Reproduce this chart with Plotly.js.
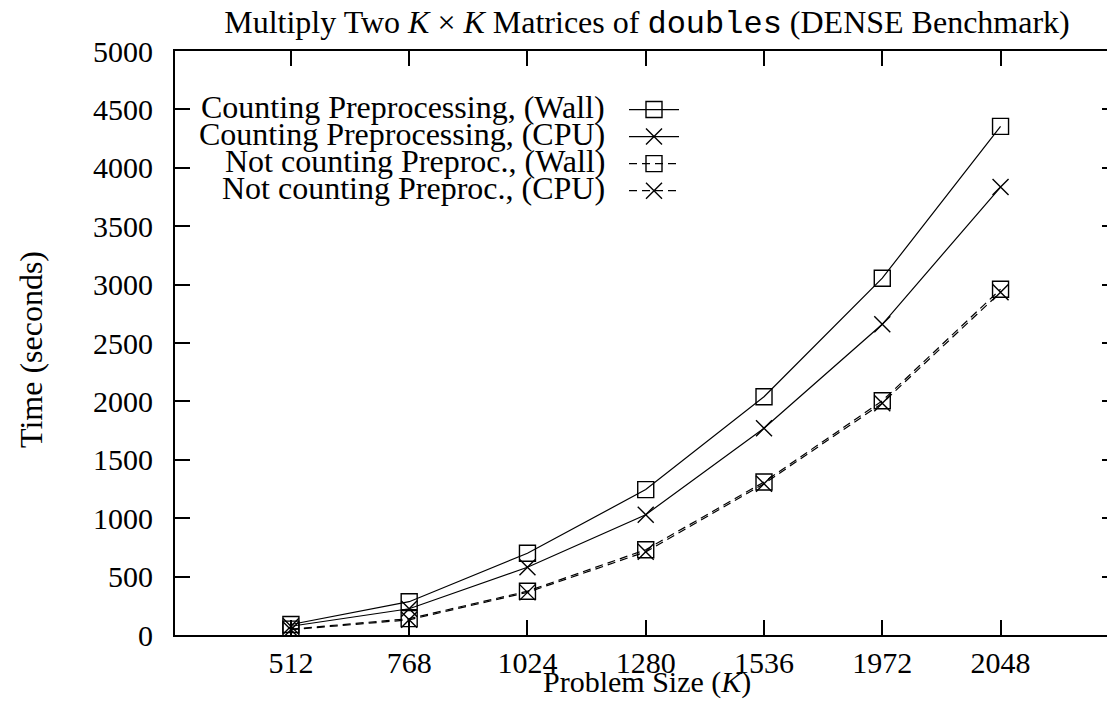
<!DOCTYPE html>
<html>
<head>
<meta charset="utf-8">
<script src="https://cdn.plot.ly/plotly-3.0.1.min.js"></script>
<style>html,body{margin:0;padding:0;background:#fff}#chart{width:1107px;height:702px}</style>
</head>
<body>
<div id="chart"></div>
<script>
// ---- data ----
const problemSizes = ['512', '768', '1024', '1280', '1536', '1972', '2048'];
const countingWall = [90, 285, 700, 1245, 2040, 3055, 4355];
const countingCPU = [75, 225, 580, 1030, 1770, 2660, 3835];
const notCountingWall = [50, 140, 375, 730, 1310, 2005, 2960];
const notCountingCPU = [45, 130, 365, 712, 1295, 1985, 2935];
const seriesNames = [
  'Counting Preprocessing, (Wall)',
  'Counting Preprocessing, (CPU)',
  'Not counting Preproc., (Wall)',
  'Not counting Preproc., (CPU)'
];
const yTicks = [0, 500, 1000, 1500, 2000, 2500, 3000, 3500, 4000, 4500, 5000];

const FONT = 'Liberation Serif, Times New Roman, serif';
const FS_TICK = 30;
const FS_TEXT = 32;

const L = 175, T = 51, B = 635, R = 1107;
const W = R - L, H = B - T;
const px = v => (v - L) / W;
const py = v => (B - v) / H;

function mk(y, name, sym, dash) {
  return {
    x: problemSizes, y: y, name: name, type: 'scatter', mode: 'lines+markers',
    line: {color: '#000', width: 1.2, dash: dash},
    marker: {symbol: sym, size: 16, color: '#000', line: {color: '#000', width: 1.4}},
    showlegend: true
  };
}
const traces = [
  mk(countingWall, seriesNames[0], 'square-open', 'solid'),
  mk(countingCPU, seriesNames[1], 'x-thin-open', 'solid'),
  mk(notCountingWall, seriesNames[2], 'square-open', '8px,5px'),
  mk(notCountingCPU, seriesNames[3], 'x-thin-open', '8px,5px')
];
// top/right mirror tick axes
traces.push({x: problemSizes, y: countingWall, xaxis: 'x2', yaxis: 'y2', type: 'scatter', mode: 'none', showlegend: false, hoverinfo: 'skip'});

const legendY0 = 107, legendDy = 27;
const annotations = seriesNames.map((n, i) => ({
  text: n, xref: 'paper', yref: 'paper', xanchor: 'right', yanchor: 'middle',
  x: px(607), y: py(legendY0 + i * legendDy),
  showarrow: false, font: {family: FONT, size: FS_TEXT, color: '#000'}
}));
annotations.push({
  text: 'Problem Size (<i>K</i>)', xref: 'paper', yref: 'paper',
  x: px(647), y: py(682), xanchor: 'center', yanchor: 'middle', showarrow: false,
  font: {family: FONT, size: 30, color: '#000'}
});
annotations.push({
  text: 'Time (seconds)', xref: 'paper', yref: 'paper', textangle: -90,
  x: px(31), y: py(350), xanchor: 'center', yanchor: 'middle', showarrow: false,
  font: {family: FONT, size: FS_TEXT, color: '#000'}
});

const layout = {
  width: 1107, height: 702,
  margin: {l: L, r: 1107 - R, t: T, b: 702 - B},
  paper_bgcolor: '#fff', plot_bgcolor: '#fff',
  font: {family: FONT, size: FS_TICK, color: '#000'},
  title: {
    text: 'Multiply Two <i>K</i> × <i>K</i> Matrices of <span style="font-family:Liberation Mono, DejaVu Sans Mono, monospace">doubles</span> (DENSE Benchmark)',
    x: px(647), xref: 'paper', xanchor: 'center', y: 1 - 22 / 702, yanchor: 'middle',
    font: {family: FONT, size: FS_TEXT, color: '#000'}
  },
  xaxis: {
    type: 'category', range: [-0.98, 6.9],
    showline: true, linecolor: '#000', linewidth: 2,
    ticks: 'inside', ticklen: 15, tickwidth: 2, tickcolor: '#000',
    showgrid: false, zeroline: false,
    tickfont: {family: FONT, size: FS_TICK},
    ticklabelstandoff: 0
  },
  xaxis2: {
    type: 'category', range: [-0.98, 6.9], overlaying: 'x', side: 'top', anchor: 'y',
    showline: true, linecolor: '#000', linewidth: 2,
    ticks: 'inside', ticklen: 15, tickwidth: 2, tickcolor: '#000',
    showticklabels: false, showgrid: false, zeroline: false
  },
  yaxis: {
    range: [0, 5000], tickvals: yTicks,
    showline: true, linecolor: '#000', linewidth: 2,
    ticks: 'inside', ticklen: 15, tickwidth: 2, tickcolor: '#000',
    showgrid: false, zeroline: false,
    tickfont: {family: FONT, size: FS_TICK},
    ticklabelstandoff: 14
  },
  yaxis2: {
    range: [0, 5000], tickvals: yTicks, overlaying: 'y', side: 'right', anchor: 'x',
    showline: false, ticks: 'inside', ticklen: 5, tickwidth: 2, tickcolor: '#000',
    showticklabels: false, showgrid: false, zeroline: false
  },
  legend: {
    x: px(624), y: py(91), xanchor: 'left', yanchor: 'top',
    bgcolor: 'rgba(0,0,0,0)', borderwidth: 0, itemwidth: 50,
    font: {family: FONT, size: 18.5, color: 'rgba(0,0,0,0)'},
    tracegroupgap: 0
  },
  annotations: annotations,
  showlegend: true
};

Plotly.newPlot('chart', traces, layout, {displayModeBar: false, staticPlot: true});
</script>
</body>
</html>
